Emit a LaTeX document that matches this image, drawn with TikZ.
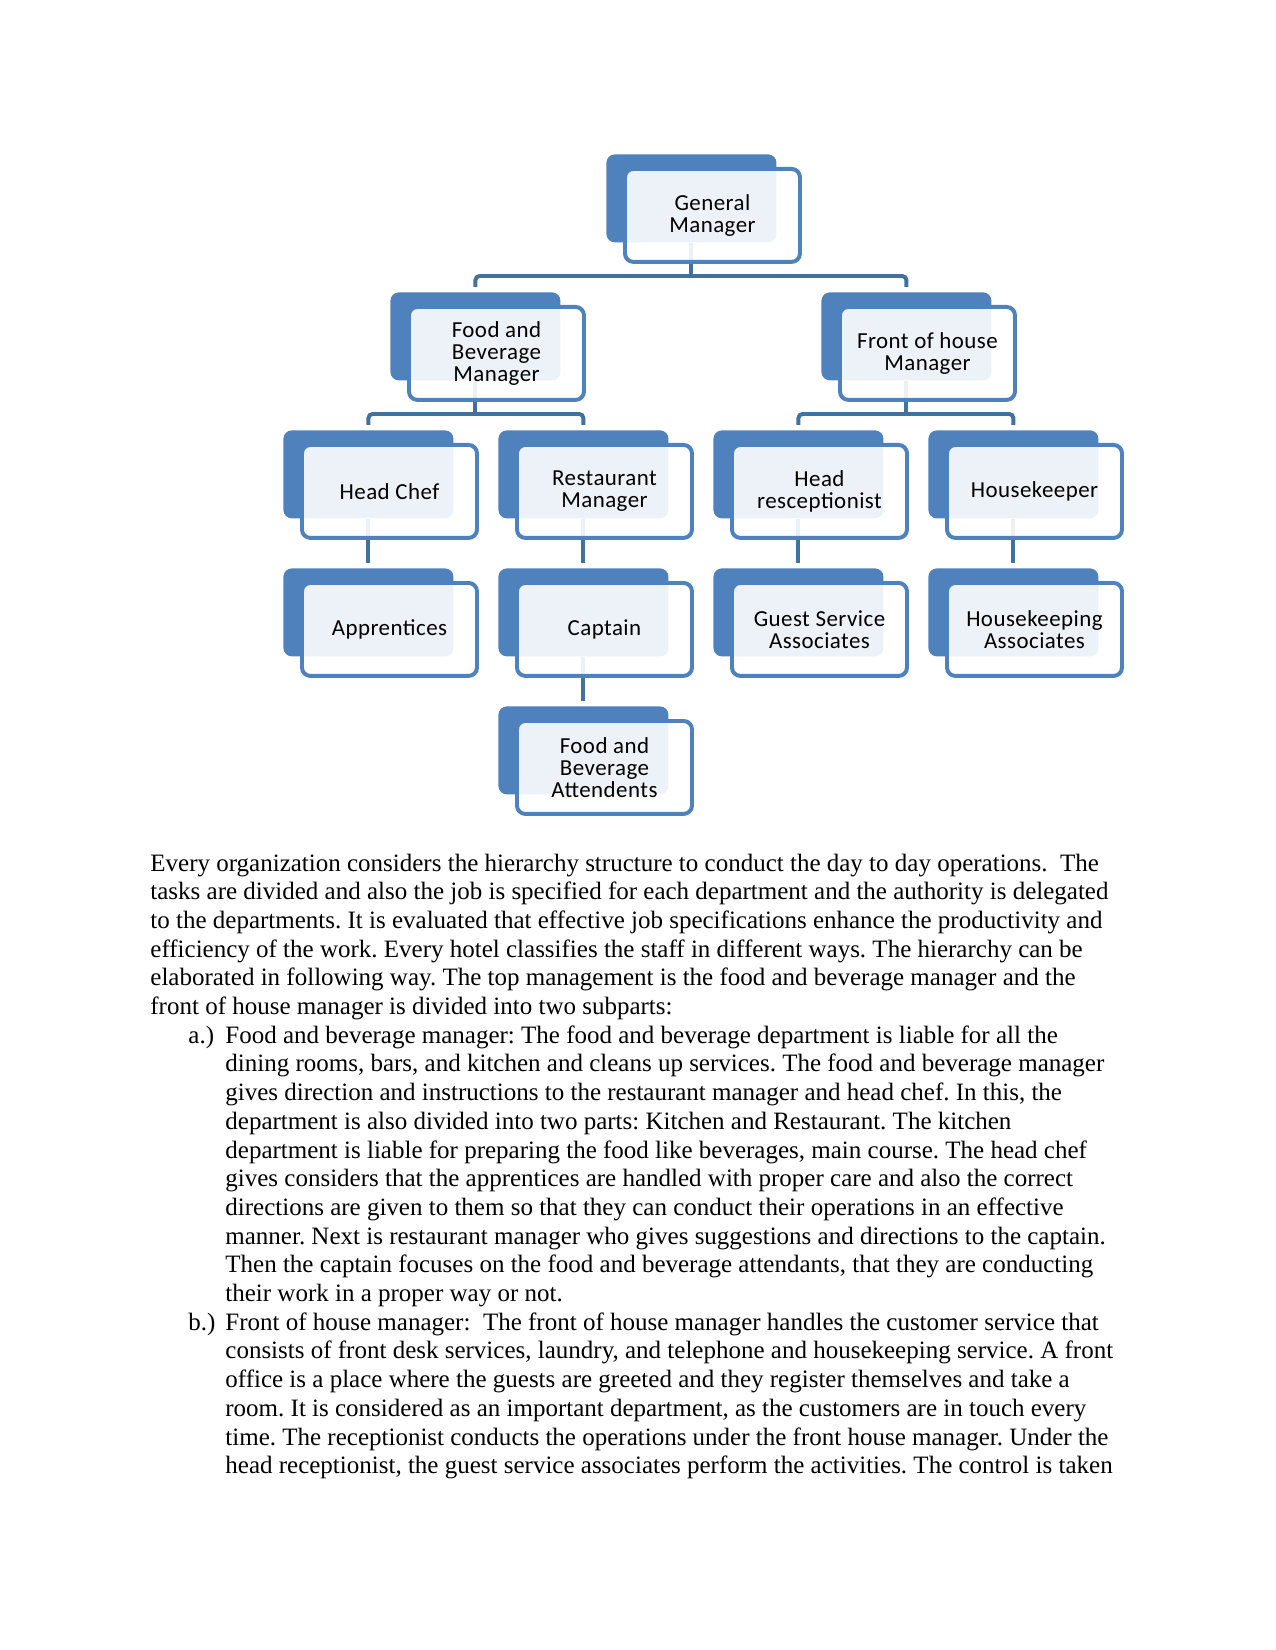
\documentclass[tikz,border=0pt]{standalone}
\usepackage{fontspec}
\setmainfont{Liberation Serif}
\newfontfamily\boxfont[LetterSpace=2]{Carlito}
\definecolor{backblue}{HTML}{4F81BD}
\definecolor{linkblue}{HTML}{41719C}
\pgfdeclarelayer{bg}
\pgfdeclarelayer{background}
\pgfsetlayers{bg,background,main}
\frenchspacing
\tikzset{
  backbox/.style={draw=none, fill=backblue, rounded corners=4pt, minimum width=81.6pt, minimum height=42.2pt, anchor=north west, inner sep=0pt},
  frontbox/.style={draw=backblue, line width=1.9pt, fill=white, fill opacity=0.9, text opacity=1, rounded corners=4pt, minimum width=84pt, minimum height=44.6pt, anchor=north west, align=center, inner sep=0pt, font=\boxfont\fontsize{11}{10.6}\selectfont},
  link/.style={draw=linkblue, line width=1.9pt, rounded corners=2pt},
  bodyline/.style={anchor=base west, inner sep=0pt, font=\fontsize{12}{14}\selectfont}
}
\newcommand\orgbox[4]{%
  \node[backbox] (#1) at (#2,#3) {};
  \node[frontbox] (#1f) at (#2+17,#3+13) {#4};}
\begin{document}
\begin{tikzpicture}[x=0.48pt,y=-0.48pt]
\useasboundingbox (0,0) rectangle (1275,1650);
\begin{pgfonlayer}{bg}
\fill[white] (0,0) rectangle (1275,1650);
\end{pgfonlayer}

% boxes
\orgbox{gm}{606}{154}{General\\Manager}
\orgbox{fb}{390}{292}{Food and\\Beverage\\Manager}
\orgbox{foh}{821}{292}{Front of house\\Manager}
\orgbox{hc}{283}{430}{Head Chef}
\orgbox{rm}{498}{430}{Restaurant\\Manager}
\orgbox{hr}{713}{430}{Head\\resceptionist}
\orgbox{hk}{928}{430}{Housekeeper}
\orgbox{ap}{283}{568}{Apprentices}
\orgbox{cp}{498}{568}{Captain}
\orgbox{gs}{713}{568}{Guest Service\\Associates}
\orgbox{ha}{928}{568}{Housekeeping\\Associates}
\orgbox{fa}{498}{706}{Food and\\Beverage\\Attendents}

% connectors
\begin{pgfonlayer}{background}
\draw[link] (gm.south) -- (gm.south |- 0,276);
\draw[link, shorten <=2.5pt, shorten >=2.5pt] (fb.north) -- (fb.north |- 0,276) -- (foh.north |- 0,276) -- (foh.north);
\draw[link] (fb.south) -- (fb.south |- 0,414);
\draw[link, shorten <=2.5pt, shorten >=2.5pt] (hc.north) -- (hc.north |- 0,414) -- (rm.north |- 0,414) -- (rm.north);
\draw[link] (foh.south) -- (foh.south |- 0,414);
\draw[link, shorten <=2.5pt, shorten >=2.5pt] (hr.north) -- (hr.north |- 0,414) -- (hk.north |- 0,414) -- (hk.north);
\draw[link, shorten >=2.5pt] (hc.south) -- (ap.north);
\draw[link, shorten >=2.5pt] (rm.south) -- (cp.north);
\draw[link, shorten >=2.5pt] (hr.south) -- (gs.north);
\draw[link, shorten >=2.5pt] (hk.south) -- (ha.north);
\draw[link, shorten >=2.5pt] (cp.south) -- (fa.north);
\end{pgfonlayer}

% body text
\node[bodyline] (l0) at (150,871) {Every organization considers the hierarchy structure to conduct the day to day operations.\ \ The};
\node[bodyline] (l1) at (150,899.7) {tasks are divided and also the job is specified for each department and the authority is delegated};
\node[bodyline] (l2) at (150,928.4) {to the departments. It is evaluated that effective job specifications enhance the productivity and};
\node[bodyline] (l3) at (150,957.1) {efficiency of the work. Every hotel classifies the staff in different ways. The hierarchy can be};
\node[bodyline] (l4) at (150,985.8) {elaborated in following way. The top management is the food and beverage manager and the};
\node[bodyline] (l5) at (150,1014.5) {front of house manager is divided into two subparts:};
\node[bodyline] (la) at (188,1043.2) {a.)};
\node[bodyline] (l6) at (225,1043.2) {Food and beverage manager: The food and beverage department is liable for all the};
\node[bodyline] (l7) at (225,1071.9) {dining rooms, bars, and kitchen and cleans up services. The food and beverage manager};
\node[bodyline] (l8) at (225,1100.6) {gives direction and instructions to the restaurant manager and head chef. In this, the};
\node[bodyline] (l9) at (225,1129.3) {department is also divided into two parts: Kitchen and Restaurant. The kitchen};
\node[bodyline] (l10) at (225,1158) {department is liable for preparing the food like beverages, main course. The head chef};
\node[bodyline] (l11) at (225,1186.7) {gives considers that the apprentices are handled with proper care and also the correct};
\node[bodyline] (l12) at (225,1215.4) {directions are given to them so that they can conduct their operations in an effective};
\node[bodyline] (l13) at (225,1244.1) {manner. Next is restaurant manager who gives suggestions and directions to the captain.};
\node[bodyline] (l14) at (225,1272.8) {Then the captain focuses on the food and beverage attendants, that they are conducting};
\node[bodyline] (l15) at (225,1301.5) {their work in a proper way or not.};
\node[bodyline] (lb) at (188,1330.2) {b.)};
\node[bodyline] (l16) at (225,1330.2) {Front of house manager:\ \ The front of house manager handles the customer service that};
\node[bodyline] (l17) at (225,1358.9) {consists of front desk services, laundry, and telephone and housekeeping service. A front};
\node[bodyline] (l18) at (225,1387.6) {office is a place where the guests are greeted and they register themselves and take a};
\node[bodyline] (l19) at (225,1416.3) {room. It is considered as an important department, as the customers are in touch every};
\node[bodyline] (l20) at (225,1445) {time. The receptionist conducts the operations under the front house manager. Under the};
\node[bodyline] (l21) at (225,1473.7) {head receptionist, the guest service associates perform the activities. The control is taken};
\end{tikzpicture}
\end{document}
